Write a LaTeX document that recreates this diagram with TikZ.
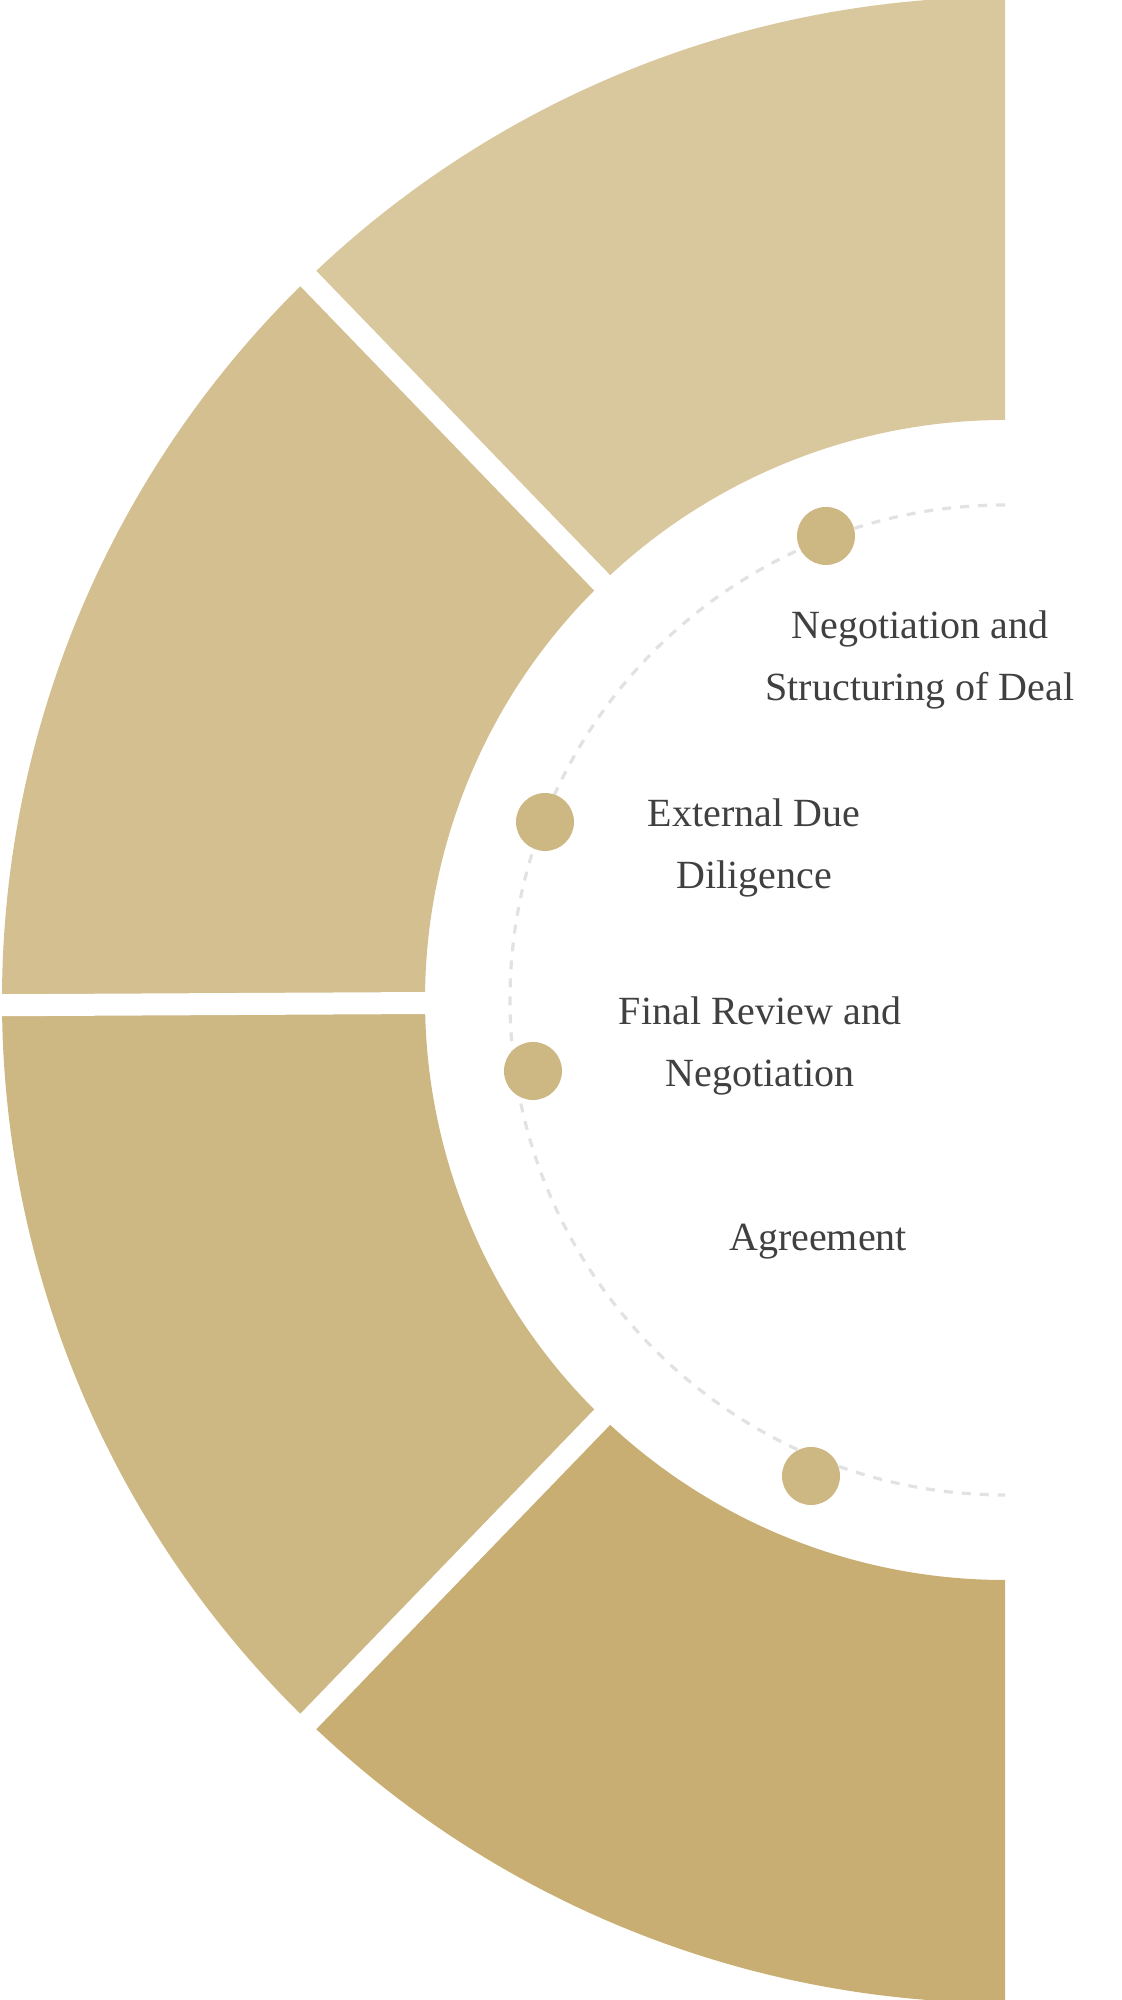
\documentclass[tikz,border=0pt]{standalone}
\usepackage{fontspec}
\setmainfont{Liberation Serif}
\definecolor{s1}{HTML}{D9C79D}
\definecolor{s2}{HTML}{D3BF8F}
\definecolor{s3}{HTML}{CDB783}
\definecolor{s4}{HTML}{C8AE72}
\definecolor{txt}{HTML}{404040}
\definecolor{dashgray}{HTML}{E2E2E2}
\begin{document}
\begin{tikzpicture}[
  dot/.style={circle,fill=s3,minimum size=29pt,inner sep=0pt},
  lbl/.style={text=txt,font=\fontsize{20pt}{31pt}\selectfont,align=center,inner sep=0pt},
  gap/.style={white,line width=11pt}]
\useasboundingbox (0pt,0pt) rectangle (561pt,1000pt);
\coordinate (C) at (502.5pt,500pt);
\def\ro{501.5pt}\def\ri{290pt}
\foreach \a/\b/\c in {90/134/s1,134/180/s2,180/226/s3,226/270/s4}{
  \fill[\c] ([shift={(\a:\ro)}]C) arc[start angle=\a,end angle=\b,radius=\ro]
    -- ([shift={(\b:\ri)}]C) arc[start angle=\b,end angle=\a,radius=\ri] -- cycle;}
\foreach \a in {134,180.3,226}{
  \draw[gap] ([shift={(\a:280pt)}]C) -- ([shift={(\a:520pt)}]C);}
\draw[dashgray,line width=1.6pt,dash pattern=on 4.5pt off 4.5pt]
  ([shift={(90:247.5pt)}]C) arc[start angle=90,end angle=270,radius=247.5pt];
\node[dot] (d1) at (413pt,732pt) {};
\node[dot] (d2) at (272.5pt,589pt) {};
\node[dot] (d3) at (266.5pt,464.5pt) {};
\node[dot] (d4) at (405.5pt,262pt) {};
\node[lbl] (t1) at (460pt,670pt) {Negotiation and\\Structuring of Deal};
\node[lbl] (t2) at (377pt,576pt) {External Due\\Diligence};
\node[lbl] (t3) at (380pt,477pt) {Final Review and\\Negotiation};
\node[lbl] (t4) at (409pt,379pt) {Agreement};
\end{tikzpicture}
\end{document}
